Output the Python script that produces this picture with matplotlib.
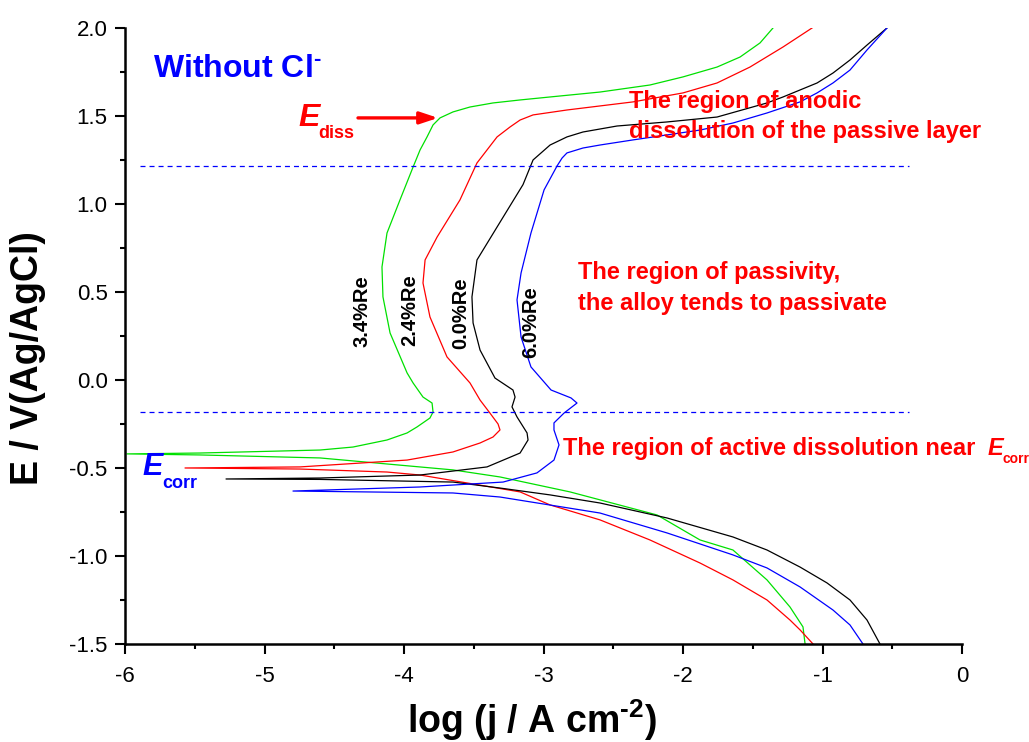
import matplotlib
matplotlib.use('Agg')
import matplotlib.pyplot as plt
from matplotlib.ticker import MultipleLocator, FormatStrFormatter

plt.rcParams['font.family'] = ['Liberation Sans', 'DejaVu Sans']
plt.rcParams['mathtext.default'] = 'regular'
plt.rcParams['axes.unicode_minus'] = False
plt.rcParams['lines.scale_dashes'] = False

# ---- data: log j (x) and E (y) ----
# 3.4 %Re (green): cathodic branch from bottom to Ecorr, then anodic branch
re34_x = [-1.125, -1.14, -1.233, -1.398, -1.642, -1.878, -2.186, -2.810, -3.312, -3.649, -4.602, -5.462, -5.986,
          -5.462, -4.602, -4.366, -4.122, -3.978, -3.907, -3.814, -3.792, -3.799, -3.864, -3.935, -3.978, -4.100,
          -4.151, -4.158, -4.122, -4.029, -3.935, -3.885, -3.835, -3.792, -3.742, -3.649, -3.527, -3.362, -3.168,
          -2.953, -2.595, -2.237, -2.0, -1.756, -1.591, -1.448, -1.355]
re34_y = [-1.50, -1.403, -1.290, -1.136, -0.966, -0.909, -0.767, -0.636, -0.551, -0.511, -0.443, -0.426, -0.420,
          -0.415, -0.398, -0.381, -0.341, -0.301, -0.267, -0.216, -0.182, -0.131, -0.097, -0.017, 0.040, 0.267,
          0.472, 0.642, 0.835, 1.023, 1.210, 1.307, 1.381, 1.449, 1.489, 1.523, 1.551, 1.574, 1.591,
          1.608, 1.636, 1.676, 1.722, 1.778, 1.835, 1.915, 2.0]

# 2.4 %Re (red)
re24_x = [-1.068, -1.161, -1.233, -1.398, -1.642, -1.878, -2.237, -2.595, -2.953, -3.168, -3.885, -4.122, -4.746, -5.570,
          -4.746, -3.978, -3.649, -3.455, -3.362, -3.312, -3.326, -3.384, -3.455, -3.527, -3.692, -3.814, -3.864,
          -3.849, -3.763, -3.599, -3.477, -3.333, -3.240, -3.168, -3.075, -2.832, -2.358, -2.0, -1.756, -1.520,
          -1.283, -1.075]
re24_y = [-1.50, -1.420, -1.364, -1.25, -1.136, -1.040, -0.909, -0.795, -0.710, -0.636, -0.540, -0.523, -0.506, -0.500,
          -0.494, -0.455, -0.409, -0.358, -0.324, -0.284, -0.250, -0.188, -0.114, -0.017, 0.131, 0.358, 0.551,
          0.682, 0.812, 1.023, 1.233, 1.381, 1.4375, 1.477, 1.506, 1.534, 1.580, 1.631, 1.6875, 1.778,
          1.892, 2.0]

# 0.0 %Re (black)
re00_x = [-0.588, -0.681, -0.803, -0.968, -1.161, -1.398, -1.642, -2.115, -2.595, -2.953, -3.312, -3.649, -4.602, -5.276,
          -4.602, -3.885, -3.405, -3.168, -3.111, -3.118, -3.190, -3.226, -3.204, -3.219, -3.348, -3.455, -3.505,
          -3.513, -3.477, -3.333, -3.147, -3.075, -2.953, -2.832, -2.717, -2.473, -2.115, -1.756, -1.398, -1.283,
          -1.039, -0.925, -0.803, -0.681, -0.538]
re00_y = [-1.50, -1.364, -1.25, -1.153, -1.063, -0.966, -0.892, -0.784, -0.699, -0.653, -0.614, -0.580, -0.565, -0.5625,
          -0.557, -0.540, -0.494, -0.415, -0.341, -0.301, -0.210, -0.153, -0.097, -0.057, 0.011, 0.170, 0.324,
          0.472, 0.682, 0.869, 1.110, 1.250, 1.335, 1.381, 1.409, 1.443, 1.466, 1.494, 1.574, 1.608,
          1.6875, 1.744, 1.818, 1.903, 2.0]

# 6.0 %Re (blue)
re60_x = [-0.710, -0.803, -0.925, -1.161, -1.398, -1.642, -2.115, -2.595, -3.312, -3.649, -4.796,
          -3.885, -3.290, -3.047, -2.925, -2.889, -2.925, -2.925, -2.853, -2.760, -2.803, -2.946, -3.090, -3.161,
          -3.190, -3.161, -3.090, -2.996, -2.903, -2.867, -2.832, -2.717, -2.595, -2.358, -1.878, -1.642, -1.398,
          -1.161, -1.039, -0.925, -0.803, -0.681, -0.538]
re60_y = [-1.50, -1.392, -1.307, -1.176, -1.068, -0.994, -0.869, -0.756, -0.665, -0.642, -0.631,
          -0.608, -0.580, -0.528, -0.455, -0.369, -0.284, -0.244, -0.188, -0.131, -0.102, -0.057, 0.074, 0.244,
          0.455, 0.608, 0.835, 1.080, 1.216, 1.261, 1.290, 1.318, 1.335, 1.364, 1.420, 1.460, 1.517,
          1.580, 1.631, 1.6875, 1.761, 1.875, 2.0]

curve_labels = ['3.4%Re', '2.4%Re', '0.0%Re', '6.0%Re']
curve_colors = ['#00e000', 'red', 'black', 'blue']
label_x = [-4.301, -3.957, -3.591, -3.090]
label_y = [0.392, 0.398, 0.381, 0.330]

dash_levels = [1.218, -0.184]
dash_x = [-5.89, -0.38]

xticks = [-6, -5, -4, -3, -2, -1, 0]

# ---- figure ----
fig = plt.figure(figsize=(10.29, 7.42), dpi=100)
ax = fig.add_axes([0.1215, 0.1321, 0.8134, 0.8302])

for xs, ys, c in zip([re34_x, re24_x, re00_x, re60_x], [re34_y, re24_y, re00_y, re60_y], curve_colors):
    ax.plot(xs, ys, color=c, lw=0.9, solid_joinstyle='round')

for lvl in dash_levels:
    ax.plot(dash_x, [lvl, lvl], color='blue', lw=0.9, dashes=(3.6, 2.9))

for t, x, y in zip(curve_labels, label_x, label_y):
    ax.text(x, y, t, rotation=90, ha='center', va='center', fontsize=14.5,
            fontweight='bold', color='black')

ax.set_xlim(-6, 0)
ax.set_ylim(-1.5, 2.0)
ax.set_xticks(xticks)
ax.xaxis.set_minor_locator(MultipleLocator(0.5))
ax.yaxis.set_major_locator(MultipleLocator(0.5))
ax.yaxis.set_minor_locator(MultipleLocator(0.25))
ax.yaxis.set_major_formatter(FormatStrFormatter('%.1f'))
ax.xaxis.set_major_formatter(FormatStrFormatter('%d'))

for s in ['top', 'right']:
    ax.spines[s].set_visible(False)
for s in ['left', 'bottom']:
    ax.spines[s].set_linewidth(1.8)

ax.tick_params(which='major', direction='out', length=7.5, width=1.5, labelsize=16)
ax.tick_params(which='minor', direction='out', length=3.8, width=1.5)
ax.tick_params(axis='y', which='major', pad=5)
ax.tick_params(axis='x', which='major', pad=8)

ax.set_xlabel('log (j / A cm$^{\u20102}$)', fontsize=27, fontweight='bold', va='baseline')
ax.xaxis.set_label_coords(0.486, -0.1445)
ax.set_ylabel('E / V(Ag/AgCl)', fontsize=27, fontweight='bold', va='center')
ax.yaxis.set_label_coords(-0.1165, 0.464)

# annotations
ax.text(-5.80, 1.722, 'Without Cl$^{\u2010}$', color='blue', fontsize=23, fontweight='bold')

ax.text(-4.760, 1.443, 'E', color='red', fontsize=23, fontweight='bold', fontstyle='italic')
ax.text(-4.616, 1.375, 'diss', color='red', fontsize=13, fontweight='bold')
ax.annotate('', xy=(-3.756, 1.489), xytext=(-4.33, 1.489),
            arrowprops=dict(arrowstyle='-|>,head_length=0.9,head_width=0.3', color='red',
                            lw=2.4, mutation_scale=12, shrinkA=0, shrinkB=0))

ax.text(-5.878, -0.540, 'E', color='blue', fontsize=22, fontweight='bold', fontstyle='italic')
ax.text(-5.735, -0.614, 'corr', color='blue', fontsize=13, fontweight='bold')

ax.text(-2.387, 1.545, 'The region of anodic', color='red', fontsize=17, fontweight='bold')
ax.text(-2.387, 1.375, 'dissolution of the passive layer', color='red', fontsize=17, fontweight='bold')

ax.text(-2.753, 0.574, 'The region of passivity,', color='red', fontsize=17, fontweight='bold')
ax.text(-2.753, 0.398, 'the alloy tends to passivate', color='red', fontsize=17, fontweight='bold')

ax.text(-2.860, -0.426, 'The region of active dissolution near', color='red', fontsize=17, fontweight='bold')
ax.text(0.18, -0.426, 'E', color='red', fontsize=17, fontweight='bold', fontstyle='italic')
ax.text(0.287, -0.472, 'corr', color='red', fontsize=10, fontweight='bold')

fig.savefig('out.png', dpi=100)
